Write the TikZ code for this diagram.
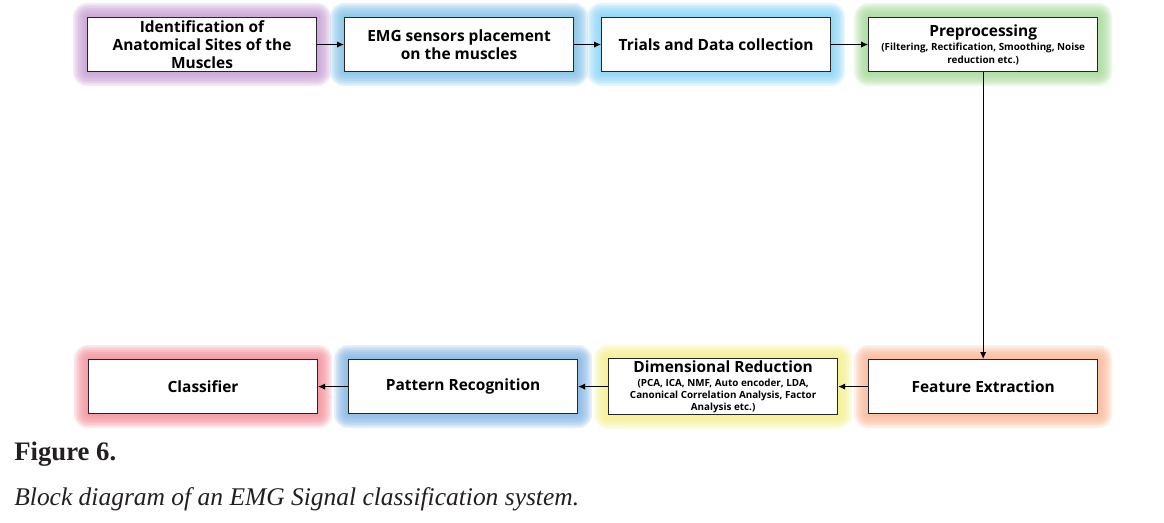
\documentclass[tikz,border=0pt]{standalone}
\usepackage{xcolor}
\usepackage{fontspec}
\setsansfont{Open Sans}
\newfontfamily\captionfont{Liberation Serif}
\usepackage{tikz}
\usetikzlibrary{positioning,arrows.meta,backgrounds}
\definecolor{GlowPurple}{HTML}{C59BD2}
\definecolor{GlowBlue}{HTML}{7DBFE6}
\definecolor{GlowCyan}{HTML}{84D2F6}
\definecolor{GlowGreen}{HTML}{A3D796}
\definecolor{GlowRed}{HTML}{F28C96}
\definecolor{GlowSteel}{HTML}{7FB2E2}
\definecolor{GlowYellow}{HTML}{F2EE84}
\definecolor{GlowOrange}{HTML}{F8B492}
\definecolor{CaptionGray}{HTML}{231F20}
\newcommand{\detail}{\fontsize{5.6}{6.6}\selectfont}
\newcommand{\glow}[2]{%
  \foreach \d in {1,...,8}{%
    \fill[#2, opacity=0.2, rounded corners=\d pt]
      ([shift={(-\d pt,-\d pt)}]#1.south west) rectangle ([shift={(\d pt,\d pt)}]#1.north east);
  }%
}
\tikzset{
  stagebox/.style={draw=black!85, line width=0.6pt, fill=white, minimum width=4.58cm, minimum height=1.08cm,
    inner sep=1pt, align=center, font=\sffamily\bfseries\fontsize{8.8}{10.4}\selectfont},
  flow/.style={-{Latex[length=4pt,width=3.6pt]}, line width=0.7pt},
}

\begin{document}
\begin{tikzpicture}[node distance=0.54cm]
      \useasboundingbox (0,0) rectangle (23.28,-10.44);
      % Top row
      \node[stagebox, anchor=north west] (ident) at (1.74,-0.34) {Identification of\\Anatomical Sites of the\\Muscles};
      \node[stagebox, right=of ident] (sensors) {EMG sensors placement\\on the muscles};
      \node[stagebox, right=of sensors] (trials) {Trials and Data collection};
      \node[stagebox, right=0.74cm of trials] (prep) {Preprocessing\\[-2pt]\detail (Filtering, Rectification, Smoothing, Noise\\[-3.4pt]\detail reduction etc.)};
      % Bottom row
      \node[stagebox, below=5.74cm of prep] (feature) {Feature Extraction};
      \node[stagebox, left=0.6cm of feature] (dimred) {Dimensional Reduction\\[-2.6pt]\detail (PCA, ICA, NMF, Auto encoder, LDA,\\[-3.6pt]\detail Canonical Correlation Analysis, Factor\\[-3.6pt]\detail Analysis etc.)};
      \node[stagebox, left=0.6cm of dimred] (pattern) {Pattern Recognition};
      \node[stagebox, left=0.6cm of pattern] (classifier) {Classifier};
      % Glows
      \begin{scope}[on background layer]
        \glow{ident}{GlowPurple}
        \glow{sensors}{GlowBlue}
        \glow{trials}{GlowCyan}
        \glow{prep}{GlowGreen}
        \glow{feature}{GlowOrange}
        \glow{dimred}{GlowYellow}
        \glow{pattern}{GlowSteel}
        \glow{classifier}{GlowRed}
      \end{scope}
      % Arrows
      \draw[flow] (ident) -- (sensors);
      \draw[flow] (sensors) -- (trials);
      \draw[flow] (trials) -- (prep);
      \draw[flow] (prep) -- (feature);
      \draw[flow] (feature) -- (dimred);
      \draw[flow] (dimred) -- (pattern);
      \draw[flow] (pattern) -- (classifier);
      % Caption
      \node[anchor=base west, inner sep=0pt, text=CaptionGray, font=\captionfont\bfseries\fontsize{15.2}{18}\selectfont] (figlabel) at (0.28,-9.2) {Figure 6.};
      \node[anchor=base west, inner sep=0pt, text=CaptionGray, font=\captionfont\itshape\fontsize{14.5}{18}\selectfont] (figtext) at (0.28,-10.1) {Block diagram of an EMG Signal classification system.};
    \end{tikzpicture}
\end{document}
